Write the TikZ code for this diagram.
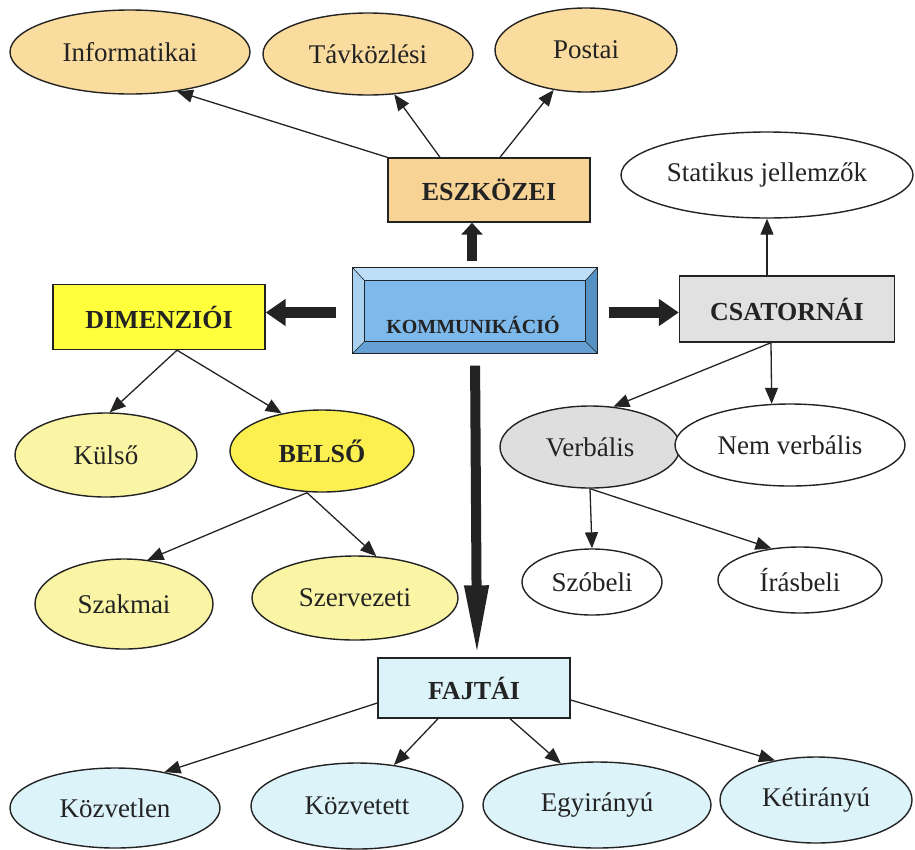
\documentclass[tikz,border=0pt]{standalone}
\usepackage{fontspec}
\setmainfont{Liberation Serif}
\usetikzlibrary{shapes.geometric,arrows.meta,calc}
\definecolor{ink}{RGB}{35,35,35}
\definecolor{eszfill}{RGB}{247,212,150}
\definecolor{eszlight}{RGB}{250,220,158}
\definecolor{dimfill}{RGB}{255,255,60}
\definecolor{belfill}{RGB}{252,240,80}
\definecolor{palyellow}{RGB}{250,245,165}
\definecolor{csafill}{RGB}{225,225,225}
\definecolor{verbfill}{RGB}{222,222,222}
\definecolor{cyanfill}{RGB}{220,243,250}
\definecolor{komface}{RGB}{125,185,235}
\definecolor{komtop}{RGB}{188,222,246}
\definecolor{komleft}{RGB}{170,210,240}
\definecolor{komright}{RGB}{85,145,195}
\definecolor{kombottom}{RGB}{100,160,212}

\begin{document}
\begin{tikzpicture}[x=1pt,y=-1pt,
		every node/.style={font=\fontsize{27}{32}\selectfont, text=ink, inner sep=0pt},
		oval/.style={ellipse, draw=ink, line width=1.4pt},
		boxed/.style={rectangle, draw=ink, line width=1.4pt, font=\fontsize{26}{31}\selectfont\bfseries},
		link/.style={draw=ink, line width=1.3pt, -{Triangle[length=16pt,width=13pt]}},
		fatlink/.style={draw=ink, line width=11pt, -{Triangle[length=20pt,width=26pt]}}]
			\useasboundingbox (0,0) rectangle (915,849);
			
			\node[oval, fill=eszlight, minimum width=240pt, minimum height=84pt] (inf) at (130,52) {Informatikai};
			\node[oval, fill=eszlight, minimum width=210pt, minimum height=82pt] (tav) at (368,54) {Távközlési};
			\node[oval, fill=eszlight, minimum width=182pt, minimum height=84pt] (pos) at (586,50) {Postai};
			\node[boxed, fill=eszfill, minimum width=202pt, minimum height=64pt] (esz) at (489,190) {ESZKÖZEI};
			\node[oval, fill=white, minimum width=292pt, minimum height=86pt] (stat) at (767,175) {Statikus jellemzők};
			\node[boxed, fill=csafill, minimum width=215pt, minimum height=66pt] (csa) at (787,309) {CSATORNÁI};
			\node[boxed, fill=dimfill, minimum width=212pt, minimum height=65pt] (dim) at (159,317) {DIMENZIÓI};
			
			\node[rectangle, draw=ink, line width=1.2pt, fill=komface, minimum width=244pt, minimum height=85pt] (kom) at (475,310.5) {};
			\fill[komtop] (kom.north west) -- (kom.north east) -- ($(kom.north east)+(-12,13)$) -- ($(kom.north west)+(12,13)$) -- cycle;
			\fill[komleft] (kom.north west) -- ($(kom.north west)+(12,13)$) -- ($(kom.south west)+(12,-12)$) -- (kom.south west) -- cycle;
			\fill[komright] (kom.north east) -- (kom.south east) -- ($(kom.south east)+(-12,-12)$) -- ($(kom.north east)+(-12,13)$) -- cycle;
			\fill[kombottom] (kom.south west) -- (kom.south east) -- ($(kom.south east)+(-12,-12)$) -- ($(kom.south west)+(12,-12)$) -- cycle;
			\draw[ink, line width=0.6pt] (kom.north west) -- ($(kom.north west)+(12,13)$) (kom.north east) -- ($(kom.north east)+(-12,13)$)
				(kom.south west) -- ($(kom.south west)+(12,-12)$) (kom.south east) -- ($(kom.south east)+(-12,-12)$);
			\draw[ink, line width=1pt] ($(kom.north west)+(12,13)$) rectangle ($(kom.south east)+(-12,-12)$);
			\draw[ink, line width=1.2pt] (kom.north west) rectangle (kom.south east);
			\node[font=\fontsize{20}{24}\selectfont\bfseries] (komtxt) at (473,325) {KOMMUNIKÁCIÓ};
			
			\node[oval, fill=palyellow, minimum width=182pt, minimum height=84pt] (kul) at (106,455) {Külső};
			\node[oval, fill=belfill, minimum width=184pt, minimum height=82pt, font=\fontsize{26}{31}\selectfont\bfseries] (bel) at (322,451) {BELSŐ};
			\node[oval, fill=verbfill, minimum width=180pt, minimum height=82pt] (verb) at (590,447) {Verbális};
			\node[oval, fill=white, minimum width=230pt, minimum height=82pt] (nem) at (790,445) {Nem verbális};
			\node[oval, fill=palyellow, minimum width=178pt, minimum height=90pt] (sza) at (124,604) {Szakmai};
			\node[oval, fill=palyellow, minimum width=206pt, minimum height=84pt] (sze) at (355,598) {Szervezeti};
			\node[oval, fill=white, minimum width=140pt, minimum height=66pt] (szo) at (592,582) {Szóbeli};
			\node[oval, fill=white, minimum width=164pt, minimum height=66pt] (iras) at (800,580) {Írásbeli};
			\node[boxed, fill=cyanfill, minimum width=192pt, minimum height=60pt] (faj) at (474,688) {FAJTÁI};
			\node[oval, fill=cyanfill, minimum width=210pt, minimum height=80pt] (kozl) at (115,808) {Közvetlen};
			\node[oval, fill=cyanfill, minimum width=212pt, minimum height=86pt] (kozt) at (357,806) {Közvetett};
			\node[oval, fill=cyanfill, minimum width=228pt, minimum height=86pt] (egy) at (597,805) {Egyirányú};
			\node[oval, fill=cyanfill, minimum width=192pt, minimum height=86pt] (ket) at (816,800) {Kétirányú};
			
			\draw[link] (esz.north west) -- (inf.-40);
			\draw[link] ([xshift=-49pt]esz.north) -- (tav.-57);
			\draw[link] ([xshift=11pt]esz.north) -- (pos.231);
			\draw[link] (csa.north -| stat) -- (stat);
			\draw[link] ([xshift=-16pt]csa.south) -- (verb.60);
			\draw[link] ([xshift=-16pt]csa.south) -- (nem.114);
			\draw[link] (verb.south) -- (szo.north);
			\draw[link] (verb.south) -- (iras.132);
			\draw[link] ([xshift=18pt]dim.south) -- (kul.85);
			\draw[link] ([xshift=18pt]dim.south) -- (bel.137);
			\draw[link] ([xshift=-15pt]bel.south) -- (sza.62);
			\draw[link] ([xshift=-15pt]bel.south) -- (sze.63);
			\draw[link] ([yshift=-15pt]faj.west) -- (kozl.36);
			\draw[link] ([xshift=-36pt]faj.south) -- (kozt.48);
			\draw[link] ([xshift=36pt]faj.south) -- (egy.131);
			\draw[link] ([yshift=-12pt]faj.east) -- (ket.136);
			
			\draw[fatlink, line width=10pt, -{Triangle[length=12pt,width=21pt]}, shorten <=6pt] ([xshift=-3pt]kom.north) -- ([xshift=-17pt]esz.south);
			\draw[fatlink, shorten <=16pt] ([yshift=-2pt]kom.west) -- ([yshift=-2pt]kom.west -| dim.east);
			\draw[fatlink, shorten <=11pt] ([yshift=-2pt]kom.east) -- ([yshift=-2pt]kom.east -| csa.west);
			\draw[fatlink, line width=10pt, -{Triangle[length=72pt,width=22pt]}, shorten <=12pt] (kom.south) -- ([xshift=3pt]faj.north);
		\end{tikzpicture}
\end{document}
